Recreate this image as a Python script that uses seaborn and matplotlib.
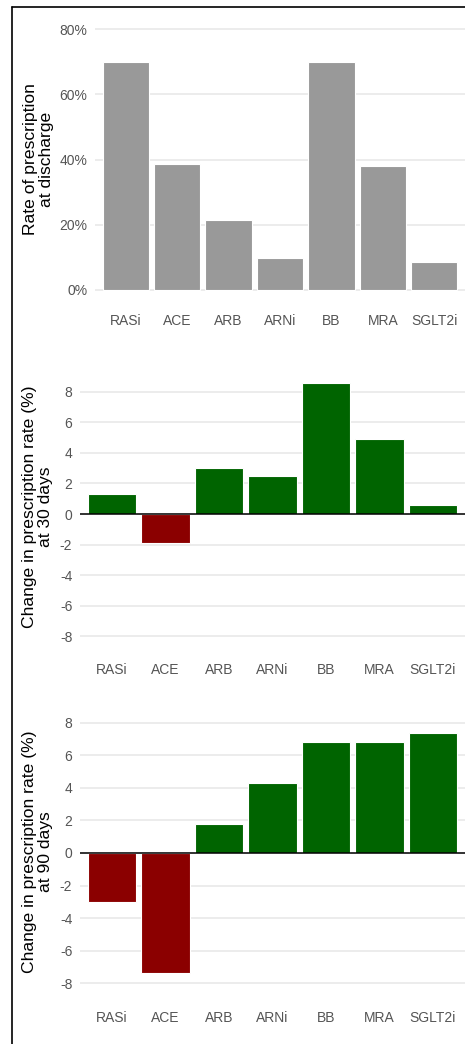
import matplotlib
matplotlib.use("Agg")
import matplotlib.pyplot as plt
from matplotlib.lines import Line2D
from matplotlib.ticker import FuncFormatter
import seaborn as sns
import pandas as pd

# Drug classes and prescription figures
drugs = ["RASi", "ACE", "ARB", "ARNi", "BB", "MRA", "SGLT2i"]
rate_discharge = [70.0, 38.7, 21.5, 9.9, 70.0, 38.1, 8.6]       # % prescribed at discharge
change_30d = [1.3, -1.9, 3.0, 2.5, 8.6, 4.9, 0.6]                # change in rate at 30 days (%)
change_90d = [-3.0, -7.4, 1.8, 4.3, 6.8, 6.8, 7.4]               # change in rate at 90 days (%)

pct_ticks = [0, 20, 40, 60, 80]
change_ticks = [-8, -6, -4, -2, 0, 2, 4, 6, 8]

GREY = "#999999"
GREEN = "#006400"
RED = "#8B0000"
GRID = "#EBEBEB"
TICK = "#555555"

sns.set_theme(style="white")
plt.rcParams["font.family"] = ["Liberation Sans", "DejaVu Sans"]
plt.rcParams["axes.unicode_minus"] = False

W, H = 465, 1044
fig = plt.figure(figsize=(W / 100, H / 100), dpi=100)


def px_axes(left, top, bottom, right=W):
    return fig.add_axes([left / W, 1 - bottom / H, (right - left) / W, (bottom - top) / H])


def style(ax, ticks):
    ax.set_yticks(ticks)
    ax.grid(axis="y", color=GRID, linewidth=1.3, zorder=0)
    ax.grid(axis="x", visible=False)
    ax.set_axisbelow(True)
    for s in ax.spines.values():
        s.set_visible(False)
    ax.tick_params(axis="both", length=0, labelsize=10, labelcolor=TICK)
    ax.tick_params(axis="y", pad=5.5)
    ax.tick_params(axis="x", pad=8)
    ax.set_xlabel("")
    ax.set_xlim(-0.6, len(drugs) - 0.4)


# Panel 1: discharge prescription rates
df1 = pd.DataFrame({"drug": drugs, "value": rate_discharge})
ax1 = px_axes(95, 16, 303)
sns.barplot(data=df1, x="drug", y="value", color=GREY, width=0.9,
            edgecolor="white", linewidth=0.8, saturation=1, ax=ax1, zorder=2)
style(ax1, pct_ticks)
ax1.set_ylim(-4, 84)
ax1.yaxis.set_major_formatter(FuncFormatter(lambda v, _: f"{v:.0f}%"))
ax1.set_ylabel("Rate of prescription\nat discharge", fontsize=12.6, color="black",
               linespacing=1.05)
ax1.yaxis.set_label_coords(-0.111, 0.5)


def change_panel(values, top, bottom, label, label_y):
    df = pd.DataFrame({"drug": drugs, "value": values})
    df["dir"] = ["up" if v >= 0 else "down" for v in values]
    ax = px_axes(80, top, bottom)
    sns.barplot(data=df, x="drug", y="value", hue="dir",
                palette={"up": GREEN, "down": RED}, width=0.9, dodge=False,
                edgecolor="white", linewidth=0.8, saturation=1, legend=False,
                ax=ax, zorder=2)
    style(ax, change_ticks)
    ax.set_ylim(-9.03, 9.03)
    ax.axhline(0, color="black", linewidth=1.1, zorder=3)
    ax.set_ylabel(label, fontsize=12.6, color="black", linespacing=1.05)
    ax.yaxis.set_label_coords(-0.070, label_y)
    return ax


ax2 = change_panel(change_30d, 376, 652, "Change in prescription rate (%)\nat 30 days", 0.525)
ax3 = change_panel(change_90d, 706, 1000, "Change in prescription rate (%)\nat 90 days", 0.505)

# Outer frame along the left and top edges
fig.add_artist(Line2D([11.5 / W, 11.5 / W], [0, 1 - 7 / H], transform=fig.transFigure,
                      color="black", linewidth=1.2))
fig.add_artist(Line2D([11.5 / W, 1], [1 - 7 / H, 1 - 7 / H], transform=fig.transFigure,
                      color="black", linewidth=1.2))

fig.savefig("out.png", dpi=100, facecolor="white")
